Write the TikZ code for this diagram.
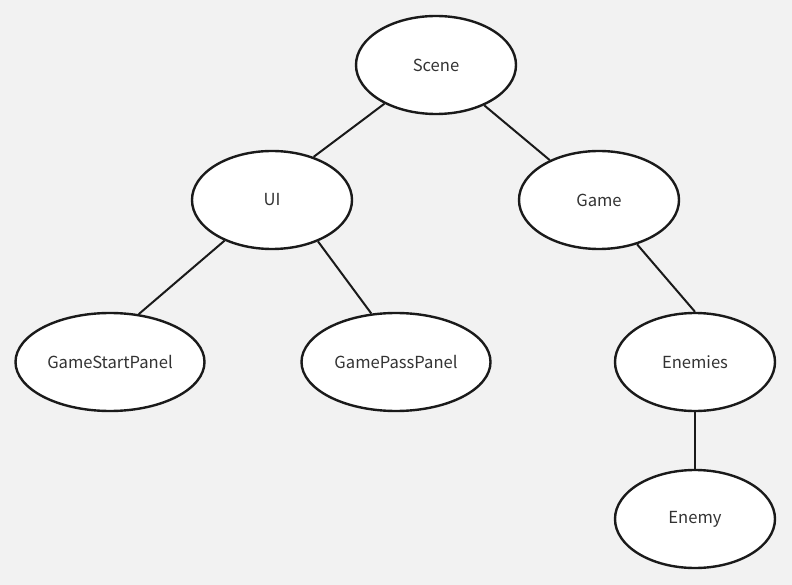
\documentclass[tikz,border=0pt]{standalone}
\usepackage{fontspec}
\setmainfont{Noto Sans CJK SC}
\usetikzlibrary{shapes.geometric}
\definecolor{bg}{HTML}{F2F2F2}
\definecolor{ink}{HTML}{1A1A1A}
\definecolor{txt}{HTML}{333333}
\begin{document}
\begin{tikzpicture}[x=1pt,y=-1pt,
  treenode/.style={ellipse,draw=ink,fill=white,line width=2.4pt,
    inner sep=0pt,text=txt,font=\fontsize{16.6}{20}\selectfont},
  small/.style={treenode,minimum width=160pt,minimum height=98pt},
  wide/.style={treenode,minimum width=189pt,minimum height=98pt},
  edge/.style={draw=ink,line width=2pt}]
\fill[bg] (0,0) rectangle (792,585);
\useasboundingbox (0,0) rectangle (792,585);
\node[small] (scene) at (436,65) {Scene};
\node[small] (ui) at (272,200) {UI};
\node[small] (game) at (599,200) {Game};
\node[wide] (gsp) at (110,362) {GameStartPanel};
\node[wide] (gpp) at (396,362) {GamePassPanel};
\node[small] (enemies) at (695,362) {Enemies};
\node[small] (enemy) at (695,519) {Enemy};
% each edge runs from the parent toward a fixed point on the child's rim
\draw[edge] (scene) -- (ui.46);
\draw[edge] (scene) -- (game.141);
\draw[edge] (ui) -- (gsp.59);
\draw[edge] (ui.-42) -- (gpp.117);
\draw[edge] (game) -- (enemies.north);
\draw[edge] (enemies) -- (enemy.north);
\end{tikzpicture}
\end{document}
